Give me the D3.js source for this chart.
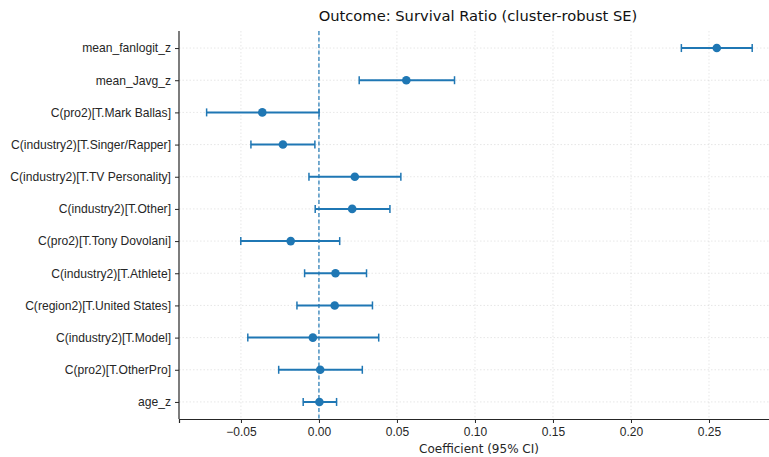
<!DOCTYPE html>
<html>
<head>
<meta charset="utf-8">
<script src="https://cdn.jsdelivr.net/npm/d3@7"></script>
<style>
  body { margin: 0; background: #fff; }
  svg { display: block; font-family: "DejaVu Sans", sans-serif; }
</style>
</head>
<body>
<svg id="main" width="769" height="457"></svg>
<script>
// Термы модели (сверху вниз)
const terms = [
    'mean_fanlogit_z',
    'mean_Javg_z',
    'C(pro2)[T.Mark Ballas]',
    'C(industry2)[T.Singer/Rapper]',
    'C(industry2)[T.TV Personality]',
    'C(industry2)[T.Other]',
    'C(pro2)[T.Tony Dovolani]',
    'C(industry2)[T.Athlete]',
    'C(region2)[T.United States]',
    'C(industry2)[T.Model]',
    'C(pro2)[T.OtherPro]',
    'age_z'
];

// Оценки коэффициентов и границы 95% ДИ
const coefs = [0.2550, 0.0560, -0.0363, -0.0231, 0.0230, 0.0213, -0.0181, 0.0106, 0.0101, -0.0039, 0.0008, 0.0003];
const ciLow = [0.2323, 0.0258, -0.0720, -0.0436, -0.0064, -0.0024, -0.0501, -0.0092, -0.0141, -0.0456, -0.0258, -0.0101];
const ciHigh = [0.2777, 0.0869, 0.0001, -0.0026, 0.0525, 0.0455, 0.0133, 0.0305, 0.0343, 0.0383, 0.0278, 0.0113];

const xTicks = [-0.05, 0.00, 0.05, 0.10, 0.15, 0.20, 0.25];

const BLUE = '#1f77b4';
const INK = '#262626';

const svg = d3.select('svg#main');
const margin = { left: 179, top: 31, bottom: 419, right: 779.5 };

const rows = terms.map((t, i) => ({ term: t, coef: coefs[i], lo: ciLow[i], hi: ciHigh[i] }));

// Шкалы
const x = d3.scaleLinear()
    .domain([-0.0897, 0.2952])
    .range([margin.left, margin.right]);

const y = d3.scalePoint()
    .domain(terms)
    .range([margin.top, margin.bottom])
    .padding(0.53);

// Сетка
const grid = svg.append('g').attr('class', 'grid');
grid.selectAll('line.gx')
    .data(xTicks)
    .enter().append('line')
    .attr('x1', d => x(d)).attr('x2', d => x(d))
    .attr('y1', margin.top).attr('y2', margin.bottom)
    .attr('stroke', '#b0b0b0')
    .attr('stroke-opacity', 0.35)
    .attr('stroke-dasharray', '1.5,2')
    .attr('stroke-width', 0.9);
grid.selectAll('line.gy')
    .data(terms)
    .enter().append('line')
    .attr('x1', margin.left).attr('x2', 769)
    .attr('y1', d => y(d)).attr('y2', d => y(d))
    .attr('stroke', '#b0b0b0')
    .attr('stroke-opacity', 0.35)
    .attr('stroke-dasharray', '1.5,2')
    .attr('stroke-width', 0.9);

// Нулевая линия
svg.append('line')
    .attr('x1', x(0)).attr('x2', x(0))
    .attr('y1', margin.top).attr('y2', margin.bottom)
    .attr('stroke', BLUE)
    .attr('stroke-width', 1.2)
    .attr('stroke-dasharray', '4,2.5');

// Доверительные интервалы
const eb = svg.append('g').attr('class', 'errorbars');
eb.selectAll('line.ci')
    .data(rows)
    .enter().append('line')
    .attr('x1', d => x(d.lo)).attr('x2', d => x(d.hi))
    .attr('y1', d => y(d.term)).attr('y2', d => y(d.term))
    .attr('stroke', BLUE)
    .attr('stroke-width', 2);

['lo', 'hi'].forEach(k => {
    eb.selectAll('line.cap-' + k)
        .data(rows)
        .enter().append('line')
        .attr('x1', d => x(d[k])).attr('x2', d => x(d[k]))
        .attr('y1', d => y(d.term) - 4).attr('y2', d => y(d.term) + 4)
        .attr('stroke', BLUE)
        .attr('stroke-width', 1.5);
});

eb.selectAll('circle')
    .data(rows)
    .enter().append('circle')
    .attr('cx', d => x(d.coef))
    .attr('cy', d => y(d.term))
    .attr('r', 4.3)
    .attr('fill', BLUE);

// Оси
const xAxis = svg.append('g')
    .attr('transform', `translate(0,${margin.bottom})`)
    .call(d3.axisBottom(x).tickValues(xTicks).tickSizeOuter(0).tickSize(4));
xAxis.select('.domain').attr('stroke', INK).attr('stroke-width', 1.2);
xAxis.selectAll('.tick line').attr('stroke', INK);
xAxis.selectAll('.tick text')
    .attr('font-size', 12)
    .attr('fill', INK)
    .attr('dy', '0.85em')
    .text(d => d3.format('.2f')(d).replace('-', '\u2212'));

const yAxis = svg.append('g')
    .attr('transform', `translate(${margin.left},0)`)
    .call(d3.axisLeft(y).tickSizeOuter(0).tickSize(4));
yAxis.select('.domain').attr('stroke', INK).attr('stroke-width', 1.2)
    .attr('d', `M0,${margin.top}V${margin.bottom}`);
yAxis.selectAll('.tick line').attr('stroke', INK);
yAxis.selectAll('.tick text')
    .attr('font-size', 12.1)
    .attr('fill', INK)
    .attr('x', -8);

// Подписи
svg.append('text')
    .attr('x', 478)
    .attr('y', 21)
    .attr('text-anchor', 'middle')
    .attr('font-size', 14.7)
    .attr('fill', '#111')
    .text('Outcome: Survival Ratio (cluster-robust SE)');

svg.append('text')
    .attr('x', 479)
    .attr('y', 452.5)
    .attr('text-anchor', 'middle')
    .attr('font-size', 12)
    .attr('fill', INK)
    .text('Coefficient (95% CI)');
</script>
</body>
</html>
